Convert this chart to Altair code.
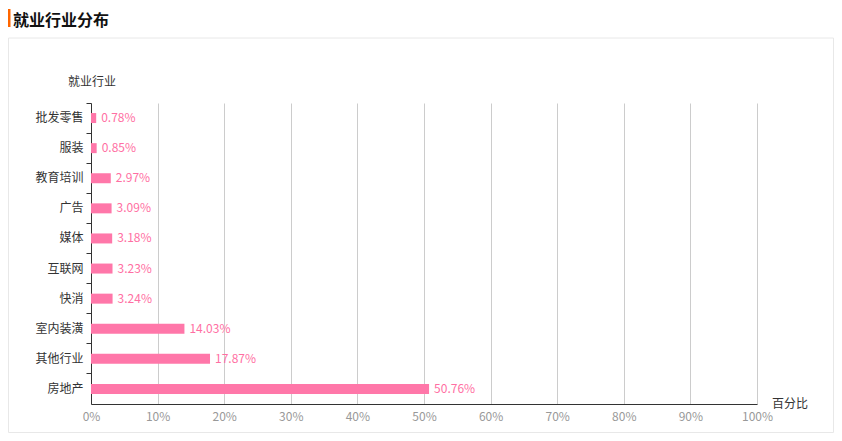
import altair as alt
import pandas as pd

categories = ["批发零售", "服装", "教育培训", "广告", "媒体", "互联网", "快消", "室内装潢", "其他行业", "房地产"]
values = [0.78, 0.85, 2.97, 3.09, 3.18, 3.23, 3.24, 14.03, 17.87, 50.76]
labels = ["0.78%", "0.85%", "2.97%", "3.09%", "3.18%", "3.23%", "3.24%", "14.03%", "17.87%", "50.76%"]
x_ticks = [0, 10, 20, 30, 40, 50, 60, 70, 80, 90, 100]

df = pd.DataFrame({"cat": categories, "val": values, "lab": labels})
one = pd.DataFrame({"k": [0]})

FONT = "Noto Sans CJK SC"
PINK = "#ff77a9"

x_enc = alt.X("val:Q", scale=alt.Scale(domain=[0, 100], nice=False),
              axis=alt.Axis(values=x_ticks, labelExpr="datum.value + '%'", ticks=False,
                            grid=True, gridColor="#cccccc", domainColor="#333333",
                            labelColor="#999999", labelFontSize=12, labelFont=FONT,
                            labelPadding=7, title=None, labelFlush=False))
y_enc = alt.Y("cat:N", sort=categories,
              scale=alt.Scale(paddingInner=0, paddingOuter=0),
              axis=alt.Axis(bandPosition=0, tickSize=5, tickColor="#333333",
                            domainColor="#333333", labelColor="#333333", labelFontSize=12,
                            labelFont=FONT, labelPadding=3, title=None, grid=False))

bars = alt.Chart(df).mark_bar(size=10, color=PINK).encode(x=x_enc, y=y_enc)
texts = alt.Chart(df).mark_text(align="left", baseline="middle", dx=5, fontSize=12,
                                font=FONT, color="#ff6fa3").encode(
    x="val:Q", y=alt.Y("cat:N", sort=categories), text="lab:N")

border = alt.Chart(one).mark_rect(fill=None, stroke="#e8e8e8", strokeWidth=1).encode(
    x=alt.value(-82.5), x2=alt.value(742.5), y=alt.value(-65), y2=alt.value(329.5))
orange = alt.Chart(one).mark_rect(color="#ff6600").encode(
    x=alt.value(-83), x2=alt.value(-80.5), y=alt.value(-94), y2=alt.value(-76))
title = alt.Chart(one).mark_text(align="left", baseline="middle", fontSize=16, fontWeight="bold",
                                 font=FONT, color="#111111", text="就业行业分布").encode(
    x=alt.value(-78), y=alt.value(-82))
ytitle = alt.Chart(one).mark_text(align="center", baseline="middle", fontSize=12,
                                  font=FONT, color="#333333", text="就业行业").encode(
    x=alt.value(1), y=alt.value(-21))
xtitle = alt.Chart(one).mark_text(align="left", baseline="middle", fontSize=12,
                                  font=FONT, color="#333333", text="百分比").encode(
    x=alt.value(681), y=alt.value(301))

chart = alt.layer(border, orange, title, ytitle, xtitle, bars, texts).properties(
    width=666, height=301,
    background="white",
    autosize=alt.AutoSizeParams(type="none"),
    padding={"left": 83, "top": 95, "right": 77, "bottom": 29},
).configure_view(stroke=None)

chart.save("out.html", embed_options={"renderer": "svg", "actions": False})
